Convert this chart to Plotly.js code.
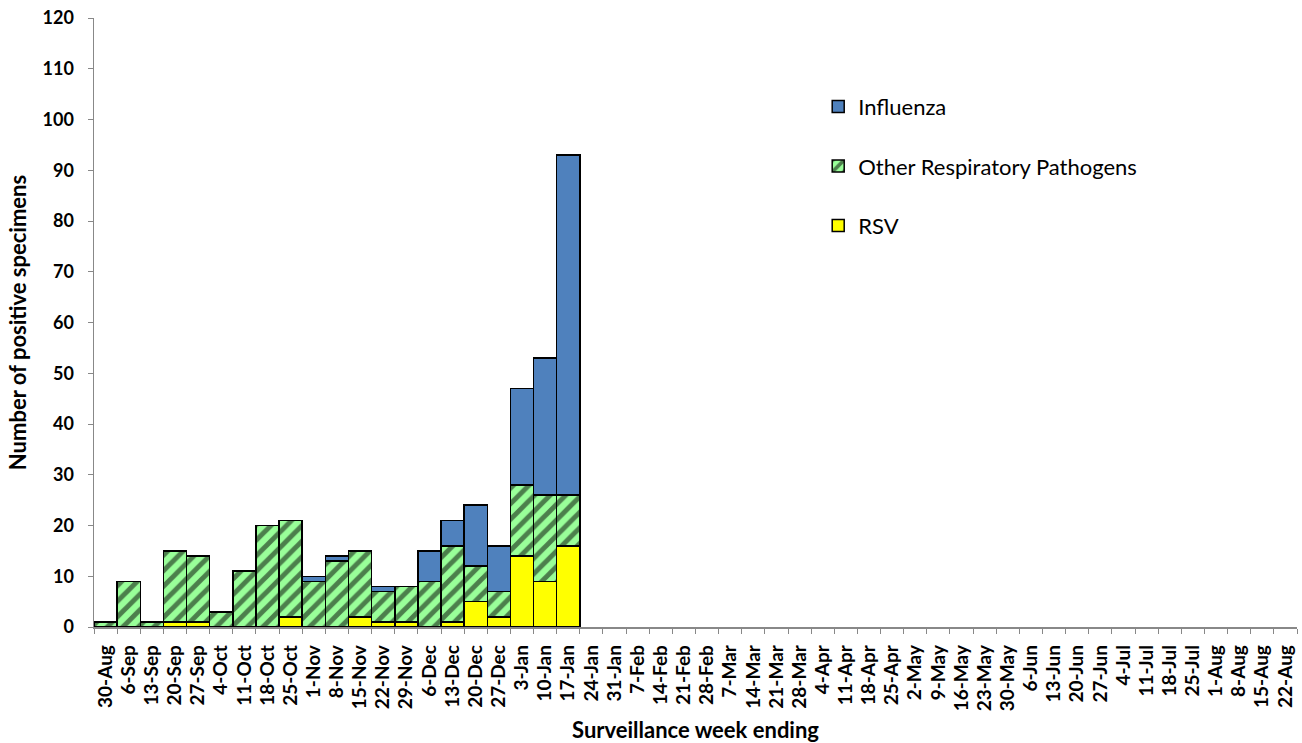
<!DOCTYPE html>
<html>
<head>
<meta charset="utf-8">
<script src="https://cdn.plot.ly/plotly-3.0.1.min.js"></script>
<style>html,body{margin:0;padding:0;background:#fff;}#chart{width:1302px;height:743px;}</style>
</head>
<body>
<div id="chart"></div>
<script>
const weeks = ["30-Aug","6-Sep","13-Sep","20-Sep","27-Sep","4-Oct","11-Oct","18-Oct","25-Oct","1-Nov","8-Nov","15-Nov","22-Nov","29-Nov","6-Dec","13-Dec","20-Dec","27-Dec","3-Jan","10-Jan","17-Jan","24-Jan","31-Jan","7-Feb","14-Feb","21-Feb","28-Feb","7-Mar","14-Mar","21-Mar","28-Mar","4-Apr","11-Apr","18-Apr","25-Apr","2-May","9-May","16-May","23-May","30-May","6-Jun","13-Jun","20-Jun","27-Jun","4-Jul","11-Jul","18-Jul","25-Jul","1-Aug","8-Aug","15-Aug","22-Aug"];
const rsv   = [0,0,0,1,1,0,0,0,2,0,0,2,1,1,0,1,5,2,14,9,16];
const other = [1,9,1,14,13,3,11,20,19,9,13,13,6,7,9,15,7,5,14,17,10];
const influenza = [0,0,0,0,0,0,0,0,0,1,1,0,1,0,6,5,12,9,19,27,67];

const FONT = "Lato, Calibri, 'Open Sans', sans-serif";
const line = {color: "#000", width: 1.5};
const traces = [
  {type: "bar", name: "RSV", x: weeks.slice(0, rsv.length), y: rsv, legendgroup: "c", legendrank: 3,
   marker: {color: "#FFFF00", line: line}},
  {type: "bar", name: "Other Respiratory Pathogens", x: weeks.slice(0, other.length), y: other, legendgroup: "b", legendrank: 2,
   marker: {color: "#99FF99", line: line,
            pattern: {shape: "/", fgcolor: "#000000", bgcolor: "#99FF99", size: 11, solidity: 0.45, fillmode: "overlay"}}},
  {type: "bar", name: "Influenza", x: weeks.slice(0, influenza.length), y: influenza, legendgroup: "a", legendrank: 1,
   marker: {color: "#4F81BD", line: line}}
];

const layout = {
  width: 1302, height: 743,
  margin: {l: 94, r: 5, t: 18, b: 116},
  barmode: "stack", bargap: 0,
  paper_bgcolor: "#fff", plot_bgcolor: "#fff",
  font: {family: FONT, color: "#000"},
  showlegend: true,
  legend: {x: 0.602, y: 0.889, xanchor: "left", yanchor: "top", traceorder: "grouped",
           tracegroupgap: 28, font: {size: 22, family: FONT}, bgcolor: "rgba(0,0,0,0)"},
  xaxis: {type: "category", categoryorder: "array", categoryarray: weeks, range: [-0.5, weeks.length - 0.5],
          tickangle: -90, tickson: "boundaries", ticks: "outside", ticklen: 5, tickcolor: "#888",
          ticklabelstandoff: 9,
          showline: true, linecolor: "#888", linewidth: 1.5, showgrid: false,
          tickfont: {size: 19, family: FONT, weight: "bold"},
          title: {text: "Surveillance week ending", font: {size: 22, family: FONT, weight: "bold"}, standoff: 16}},
  yaxis: {range: [0, 120], dtick: 10, tick0: 0, ticks: "outside", ticklen: 5, tickcolor: "#888",
          ticklabelstandoff: 10,
          showline: true, linecolor: "#888", linewidth: 1.5, showgrid: false, zeroline: false,
          tickfont: {size: 18, family: FONT, weight: "bold"},
          title: {text: "Number of positive specimens", font: {size: 22, family: FONT, weight: "bold"}, standoff: 10}}
};
Plotly.newPlot("chart", traces, layout, {displayModeBar: false, staticPlot: true});
</script>
</body>
</html>
